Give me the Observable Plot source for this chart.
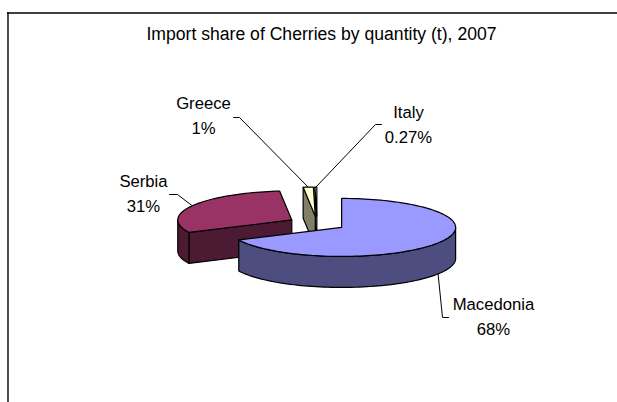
<!DOCTYPE html>
<html>
<head>
<meta charset="utf-8">
<style>html,body{margin:0;padding:0;background:#fff}svg{display:block}</style>
<script src="https://cdn.jsdelivr.net/npm/d3@7"></script>
<script src="https://cdn.jsdelivr.net/npm/@observablehq/plot@0.6"></script>
</head>
<body>
<div id="chart"></div>
<script>
const title = "Import share of Cherries by quantity (t), 2007";
const countries = ["Macedonia", "Serbia", "Greece", "Italy"];
const shares = [67.9, 30.4, 1.43, 0.27];
const shareLabels = ["68%", "31%", "1%", "0.27%"];
const topColors = ["#9999FF", "#993366", "#FFFFCC", "#CCFFFF"];
const sideColors = ["#4D4D80", "#4D1A33", "#808066", "#668080"];

// Label centre (last-line baseline) and leader path ends, in chart units
const labelX = [493, 143, 203, 408];
const labelY = [334, 211, 133, 142];
const elbowStart = [[442, 317], [177, 194], [239, 117], [375, 124]];
const elbowEnd = [[448, 317], [169, 194], [233, 117], [381, 124]];

const W = 617, H = 402;
const pie = {cx: 316.6, cy: 223, rx: 114, ry: 29, depth: 31, explode: 29};
const rad = d => d * Math.PI / 180;

const total = d3.sum(shares);
let acc = 0;
const slices = countries.map((name, i) => {
  const a = acc / total * 360;
  acc += shares[i];
  const b = acc / total * 360;
  const m = rad((a + b) / 2);
  return {
    name, i, a, b,
    ox: pie.cx + pie.explode * Math.sin(m),
    oy: pie.cy - pie.explode * (pie.ry / pie.rx) * Math.cos(m)
  };
});
const rim = (s, deg, drop = 0) => ({
  x: s.ox + pie.rx * Math.sin(rad(deg)),
  y: s.oy - pie.ry * Math.cos(rad(deg)) + drop
});
const arc = (s, a, b, drop = 0) => {
  const n = Math.max(1, Math.ceil(Math.abs(b - a) / 2));
  return d3.range(n + 1).map(k => rim(s, a + (b - a) * k / n, drop));
};

// Painted back to front: Italy, Greece, Serbia, Macedonia
const polys = [];
const add = (id, color, pts) => {
  const closed = [...pts, pts[0]];
  closed.forEach(p => polys.push({id, color, x: p.x, y: p.y}));
};
[...slices].reverse().forEach(s => {
  const side = sideColors[s.i], top = topColors[s.i];
  // Cut face at the slice start, when it looks toward the viewer
  if (Math.sin(rad(s.a)) < -1e-6) {
    const r = rim(s, s.a), c = {x: s.ox, y: s.oy};
    add(s.name + "-cut", side, [c, r, {x: r.x, y: r.y + pie.depth}, {x: c.x, y: c.y + pie.depth}]);
  }
  // Outer wall for the part of the rim on the front half
  const f0 = Math.max(s.a, 90), f1 = Math.min(s.b, 270);
  if (f1 > f0) add(s.name + "-wall", side, [...arc(s, f0, f1), ...arc(s, f1, f0, pie.depth)]);
  // Top face
  add(s.name + "-top", top, [{x: s.ox, y: s.oy}, ...arc(s, s.a, s.b)]);
});

const leaders = slices.flatMap(s => {
  const mid = (s.a + s.b) / 2;
  const front = mid > 90 && mid < 270;
  const p0 = rim(s, mid, front ? pie.depth : 0);
  return [p0, {x: elbowStart[s.i][0], y: elbowStart[s.i][1]}, {x: elbowEnd[s.i][0], y: elbowEnd[s.i][1]}]
    .map(p => ({id: s.name, x: p.x, y: p.y}));
});

const labels = slices.map(s => ({
  x: labelX[s.i], y: labelY[s.i], text: s.name + "\n" + shareLabels[s.i]
}));

const font = {fontFamily: "Liberation Sans, Arial, sans-serif", fill: "#000", stroke: "none"};

const plot = Plot.plot({
  width: W, height: H,
  margin: 0,
  x: {domain: [0, W], range: [0, W], axis: null},
  y: {domain: [0, H], range: [0, H], axis: null},
  style: {background: "#fff"},
  marks: [
    Plot.ruleX([7.5], {y1: 12, y2: H, stroke: "#000", strokeWidth: 1.4}),
    Plot.ruleY([12.5], {x1: 7, x2: W, stroke: "#000", strokeWidth: 1.4}),
    Plot.line(leaders, {x: "x", y: "y", z: "id", stroke: "#000", strokeWidth: 1, curve: "linear"}),
    Plot.line(polys, {x: "x", y: "y", z: "id", fill: "color", stroke: "#000", strokeWidth: 1.2, strokeLinejoin: "round", curve: "linear"}),
    Plot.text(labels, {x: "x", y: "y", text: "text", textAnchor: "middle", lineAnchor: "bottom", lineHeight: 1.44, fontSize: 16.7, ...font}),
    Plot.text([title], {x: [321], y: [39], text: d => d, textAnchor: "middle", lineAnchor: "bottom", fontSize: 17.6, ...font})
  ]
});
document.getElementById("chart").appendChild(plot);
</script>
</body>
</html>
